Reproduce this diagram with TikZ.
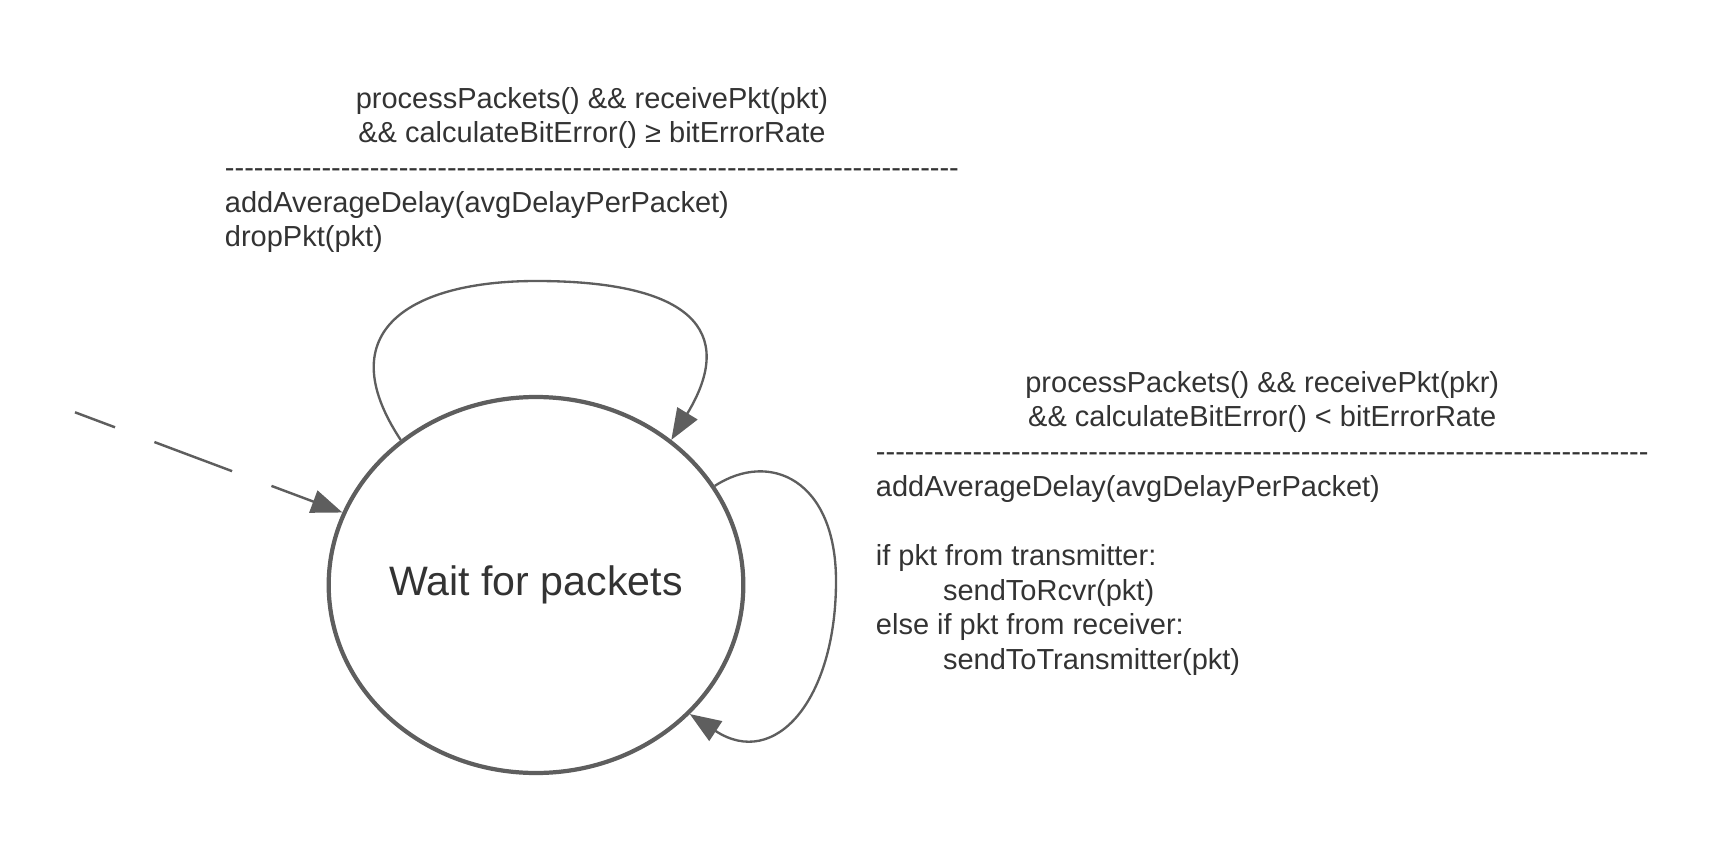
\documentclass[tikz,border=0pt]{standalone}
\usepackage{fontspec}
\usetikzlibrary{arrows.meta,shapes.geometric}
\newfontfamily\lab{Liberation Sans}
\definecolor{ln}{HTML}{5E5E5E}
\definecolor{tx}{HTML}{333333}
\begin{document}
\begin{tikzpicture}[x=0.45pt,y=-0.45pt,
  lbl/.style={inner sep=0pt, anchor=base west, text=tx, font=\lab\fontsize{13.05pt}{15.6pt}\selectfont},
  stnode/.style={ellipse, draw=ln, line width=1.9pt, minimum width=185pt, minimum height=169.2pt, inner sep=0pt, text=tx, font=\lab\fontsize{18.5pt}{22pt}\selectfont},
  trans/.style={draw=ln, line width=1.05pt, -{Triangle[length=14pt,width=10.5pt]}},
  initarrow/.style={draw=ln, line width=1.1pt, dash pattern=on 37.35pt off 18.9pt, dash phase=18.1pt, -{Triangle[length=14pt,width=10.5pt]}},
]
\useasboundingbox (0,0) rectangle (1731,848);
\node[stnode] (s) at (536,585) {Wait for packets};
\node[lbl] (t1) at (224.5,108.3) {\begin{tabular}[t]{@{}l@{}}
\multicolumn{1}{@{}c@{}}{processPackets() \&\& receivePkt(pkt)}\\
\multicolumn{1}{@{}c@{}}{\&\& calculateBitError() ≥ bitErrorRate}\\
----------------------------------------------------------------------------\\
addAverageDelay(avgDelayPerPacket)\\
dropPkt(pkt)
\end{tabular}};
\node[lbl] (t2) at (875.5,392.3) {\begin{tabular}[t]{@{}l@{}}
\multicolumn{1}{@{}c@{}}{processPackets() \&\& receivePkt(pkr)}\\
\multicolumn{1}{@{}c@{}}{\&\& calculateBitError() < bitErrorRate}\\
--------------------------------------------------------------------------------\\
addAverageDelay(avgDelayPerPacket)\\
\\
if pkt from transmitter:\\
\hspace*{30.2pt}sendToRcvr(pkt)\\
else if pkt from receiver:\\
\hspace*{30.2pt}sendToTransmitter(pkt)
\end{tabular}};
\coordinate (init) at (75,412.3);
\draw[initarrow] (init) -- (s);
\draw[trans] (s.133) .. controls (328,330) and (412,281) .. (536,281) .. controls (690,281) and (738,330) .. (s.47);
\draw[trans] (s.29) .. controls (770,450) and (836,480) .. (836,581) .. controls (836,700) and (775,770) .. (s.-40);
\end{tikzpicture}
\end{document}
